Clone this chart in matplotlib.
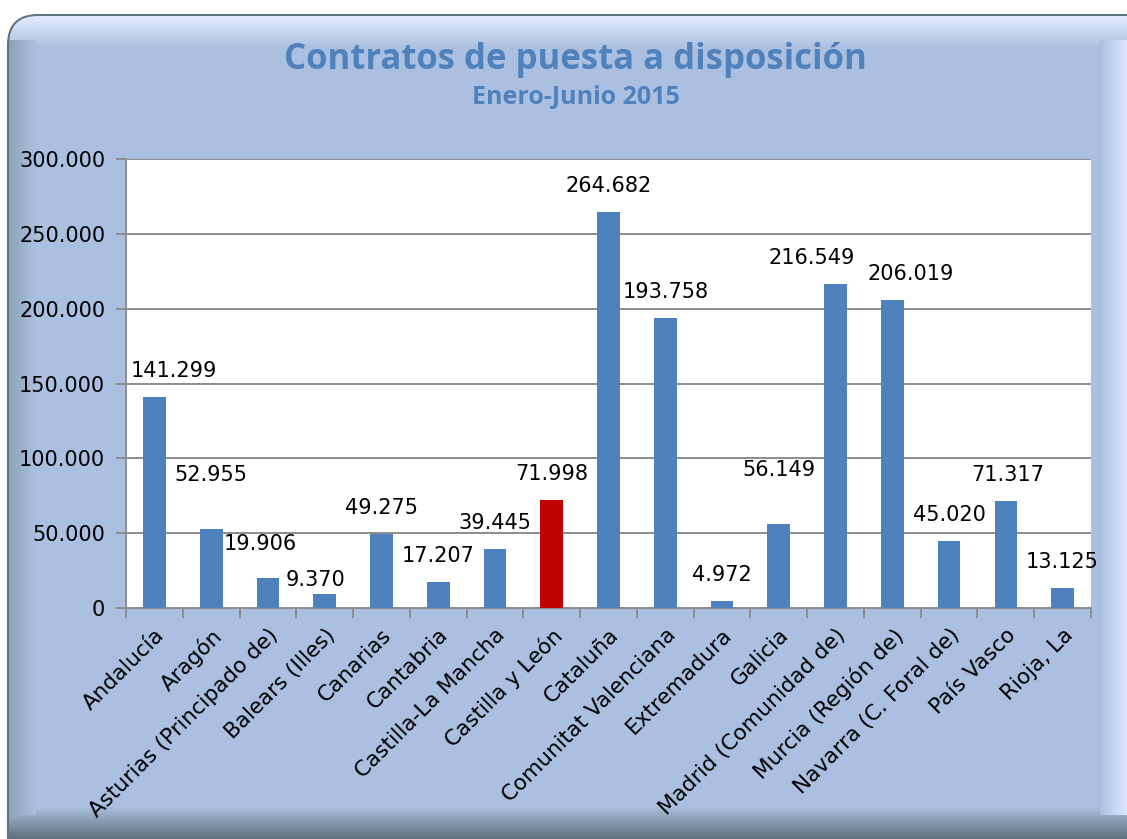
import matplotlib
matplotlib.use("Agg")
import matplotlib.pyplot as plt
import matplotlib.patches as patches
import numpy as np

# datos
regiones = ["Andalucía", "Aragón", "Asturias (Principado de)", "Balears (Illes)",
            "Canarias", "Cantabria", "Castilla-La Mancha", "Castilla y León",
            "Cataluña", "Comunitat Valenciana", "Extremadura", "Galicia",
            "Madrid (Comunidad de)", "Murcia (Región de)", "Navarra (C. Foral de)",
            "País Vasco", "Rioja, La"]
contratos = [141299, 52955, 19906, 9370, 49275, 17207, 39445, 71998,
             264682, 193758, 4972, 56149, 216549, 206019, 45020, 71317, 13125]
destacada = "Castilla y León"

yticks = [0, 50000, 100000, 150000, 200000, 250000, 300000]

AZUL = "#4f81bd"
ROJO = "#c00000"
FONDO = "#abc0e0"

# ajuste de etiquetas (px) como en el original: (dx, dy extra)
nudge = {0: (19, 0), 1: (0, 28), 2: (-8, 8), 3: (-9, -12),
         11: (0, 28), 12: (-24, 0), 13: (18, 0), 15: (2, 0)}


def fmt(v):
    return f"{v:,}".replace(",", ".")


W, H = 1127, 839
fig = plt.figure(figsize=(W / 100, H / 100), dpi=100)
fig.patch.set_facecolor("white")

# --- marco biselado ---
bg = fig.add_axes([0, 0, 1, 1], zorder=0)
bg.set_xlim(0, W)
bg.set_ylim(H, 0)
bg.axis("off")

marco = patches.FancyBboxPatch((8, 15), 1160, 860, boxstyle="round,pad=0,rounding_size=30",
                               facecolor=FONDO, edgecolor="none", zorder=1)
bg.add_patch(marco)


def grad(ax, x0, x1, y0, y1, c0, c1, horizontal=True, z=2):
    c0 = np.array(matplotlib.colors.to_rgb(c0))
    c1 = np.array(matplotlib.colors.to_rgb(c1))
    t = np.linspace(0, 1, 64)[:, None] * (c1 - c0) + c0
    img = t[None, :, :] if horizontal else t[:, None, :]
    im = ax.imshow(img, extent=(x0, x1, y1, y0), aspect="auto", interpolation="bilinear", zorder=z)
    im.set_clip_path(marco)


grad(bg, 8, 1127, 15, 48, "#e4efff", FONDO, horizontal=False)
grad(bg, 8, 1127, 806, 839, FONDO, "#5d727a", horizontal=False)
grad(bg, 8, 36, 40, 815, "#8aa3b4", FONDO, z=2.5)
grad(bg, 1100, 1127, 40, 815, FONDO, "#dbe8ff", z=2.5)
bg.add_patch(patches.Rectangle((36, 48), 1064, 758, facecolor=FONDO, edgecolor="none", zorder=3))
bg.add_patch(patches.FancyBboxPatch((8, 15), 1160, 860, boxstyle="round,pad=0,rounding_size=30",
                                    facecolor="none", edgecolor="#5f7680", linewidth=1.5, zorder=4))

fig.text(575 / W, 1 - 60 / H, "Contratos de puesta a disposición", ha="center", va="center",
         fontsize=25, fontweight="bold", color=AZUL, family="Open Sans", zorder=5)
fig.text(576 / W, 1 - 97 / H, "Enero-Junio 2015", ha="center", va="center",
         fontsize=18, fontweight="bold", color=AZUL, family="Open Sans", zorder=5)

# --- gráfico ---
ax = fig.add_axes([126 / W, 1 - 608 / H, (1091 - 126) / W, (608 - 159) / H], zorder=4)
ax.set_facecolor("white")
x = np.arange(len(regiones))
colores = [ROJO if r == destacada else AZUL for r in regiones]
ax.bar(x, contratos, width=0.4, color=colores, zorder=3)

ax.set_xlim(-0.5, len(regiones) - 0.5)
ax.set_ylim(0, 300000)
ax.set_yticks(yticks)
ax.set_yticklabels([fmt(v) for v in yticks], fontsize=15, family="DejaVu Sans")
ax.yaxis.grid(True, color="#8c8c8c", linewidth=1.4, zorder=1)
ax.set_axisbelow(True)

ax.set_xticks(x)
ax.set_xticklabels(regiones, rotation=45, ha="right", rotation_mode="anchor",
                   fontsize=15.5, family="DejaVu Sans")
ax.tick_params(axis="x", which="major", length=0, pad=12)
ax.set_xticks(np.arange(len(regiones) + 1) - 0.5, minor=True)
ax.tick_params(axis="x", which="minor", length=7, width=1.4, color="#8c8c8c", direction="out")
ax.tick_params(axis="y", length=7, width=1.4, color="#8c8c8c", direction="out", pad=8)

for s in ["top", "right"]:
    ax.spines[s].set_visible(False)
for s in ["left", "bottom"]:
    ax.spines[s].set_color("#8c8c8c")
    ax.spines[s].set_linewidth(1.4)

for i, v in enumerate(contratos):
    dx, dy = nudge.get(i, (0, 0))
    ax.annotate(fmt(v), (i, v), xytext=(dx * 0.72, (26 + dy) * 0.72), textcoords="offset points",
                ha="center", va="center", fontsize=15, family="DejaVu Sans", color="black",
                annotation_clip=False, zorder=5)

fig.savefig("out.png", dpi=100, facecolor="white")
